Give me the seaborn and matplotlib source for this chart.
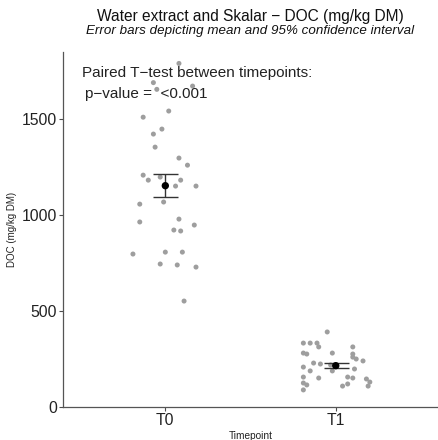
import numpy as np
import pandas as pd
import matplotlib
matplotlib.use('Agg')
import matplotlib.pyplot as plt
import seaborn as sns

# values (mg/kg DM), with horizontal jitter offsets
t0_doc = [1790, 1690, 1672, 1655, 1542, 1510, 1448, 1422, 1354, 1297, 1260, 1208,
          1198, 1182, 1182, 1151, 1151, 1057, 1068, 964, 979, 948, 922, 917,
          797, 807, 807, 745, 740, 729, 552]
t0_off = [0.08, -0.07, 0.16, -0.05, 0.02, -0.13, -0.02, -0.07, -0.06, 0.08, 0.13, -0.13,
          -0.03, -0.10, 0.09, 0.06, 0.18, -0.15, -0.01, -0.15, 0.08, 0.17, 0.05, 0.09,
          -0.19, 0.00, 0.10, -0.03, 0.07, 0.18, 0.11]
t1_doc = [391, 333, 333, 333, 313, 313, 281, 276, 281, 276, 260, 250, 240, 229, 224,
          219, 208, 188, 198, 188, 156, 151, 156, 151, 146, 130, 109, 125, 115, 89, 109, 120]
t1_off = [-0.05, -0.19, -0.15, -0.11, -0.10, 0.10, -0.19, -0.17, -0.02, 0.10, 0.10, 0.12,
          0.16, -0.13, -0.09, -0.03, -0.19, -0.15, 0.11, -0.02, -0.19, -0.10, 0.07, 0.10,
          0.18, 0.20, 0.19, -0.19, -0.17, -0.19, 0.04, 0.07]
timepoints = ['T0', 'T1']

df = pd.DataFrame({
    'Timepoint': ['T0'] * len(t0_doc) + ['T1'] * len(t1_doc),
    'DOC': t0_doc + t1_doc,
    'off': t0_off + t1_off,
})
df['xpos'] = df['Timepoint'].map({t: i for i, t in enumerate(timepoints)}) + df['off']

summ = df.groupby('Timepoint')['DOC'].agg(['mean', 'std', 'count']).reindex(timepoints)
summ['se'] = summ['std'] / np.sqrt(summ['count'])
summ['x'] = np.arange(len(timepoints))

sns.set_style('white')
plt.rcParams['font.family'] = ['Liberation Sans', 'DejaVu Sans']

fig = plt.figure(figsize=(4.38, 4.40), dpi=100)
ax = fig.add_axes([0.144, 0.075, 0.856, 0.807])

sns.scatterplot(data=df, x='xpos', y='DOC', color='#9e9e9e', s=13,
                edgecolor='none', ax=ax, zorder=2)
ax.errorbar(summ['x'], summ['mean'], yerr=summ['se'], fmt='none',
            ecolor='#333333', elinewidth=1.0, capsize=9, capthick=1.0, zorder=3)
sns.scatterplot(data=summ, x='x', y='mean', color='black', s=28,
                edgecolor='none', ax=ax, zorder=4)

ax.set_xlim(-0.6, 1.6)
ax.set_ylim(0, 1850)
ax.set_xticks(range(len(timepoints)))
ax.set_xticklabels(timepoints)
ax.set_yticks([0, 500, 1000, 1500])
ax.tick_params(axis='both', labelsize=11.3, colors='#4d4d4d', length=3,
               width=0.8, direction='out', left=True, bottom=True, pad=1.5)
for lbl in ax.get_xticklabels() + ax.get_yticklabels():
    lbl.set_color('#222222')
ax.spines[['top', 'right']].set_visible(False)
for s in ['left', 'bottom']:
    ax.spines[s].set_color('#555555')
    ax.spines[s].set_linewidth(0.9)
ax.set_xlabel('Timepoint', fontsize=7.3, labelpad=2, color='#222222')
ax.set_ylabel('DOC (mg/kg DM)', fontsize=7, labelpad=3, color='#222222')

fig.text(0.187, 0.834, 'Paired T\u2212test between timepoints:',
         fontsize=11, color='#222222', va='center', ha='left')
fig.text(0.194, 0.786, 'p\u2212value =  <0.001',
         fontsize=11, color='#222222', va='center', ha='left')

fig.text(0.572, 0.963, 'Water extract and Skalar \u2212 DOC (mg/kg DM)',
         ha='center', va='center', fontsize=11.2, color='#111111')
fig.text(0.57, 0.93, 'Error bars depicting mean and 95% confidence interval',
         ha='center', va='center', fontsize=9.6, style='italic', color='#111111')

plt.savefig('out.png', dpi=100)
plt.close()
